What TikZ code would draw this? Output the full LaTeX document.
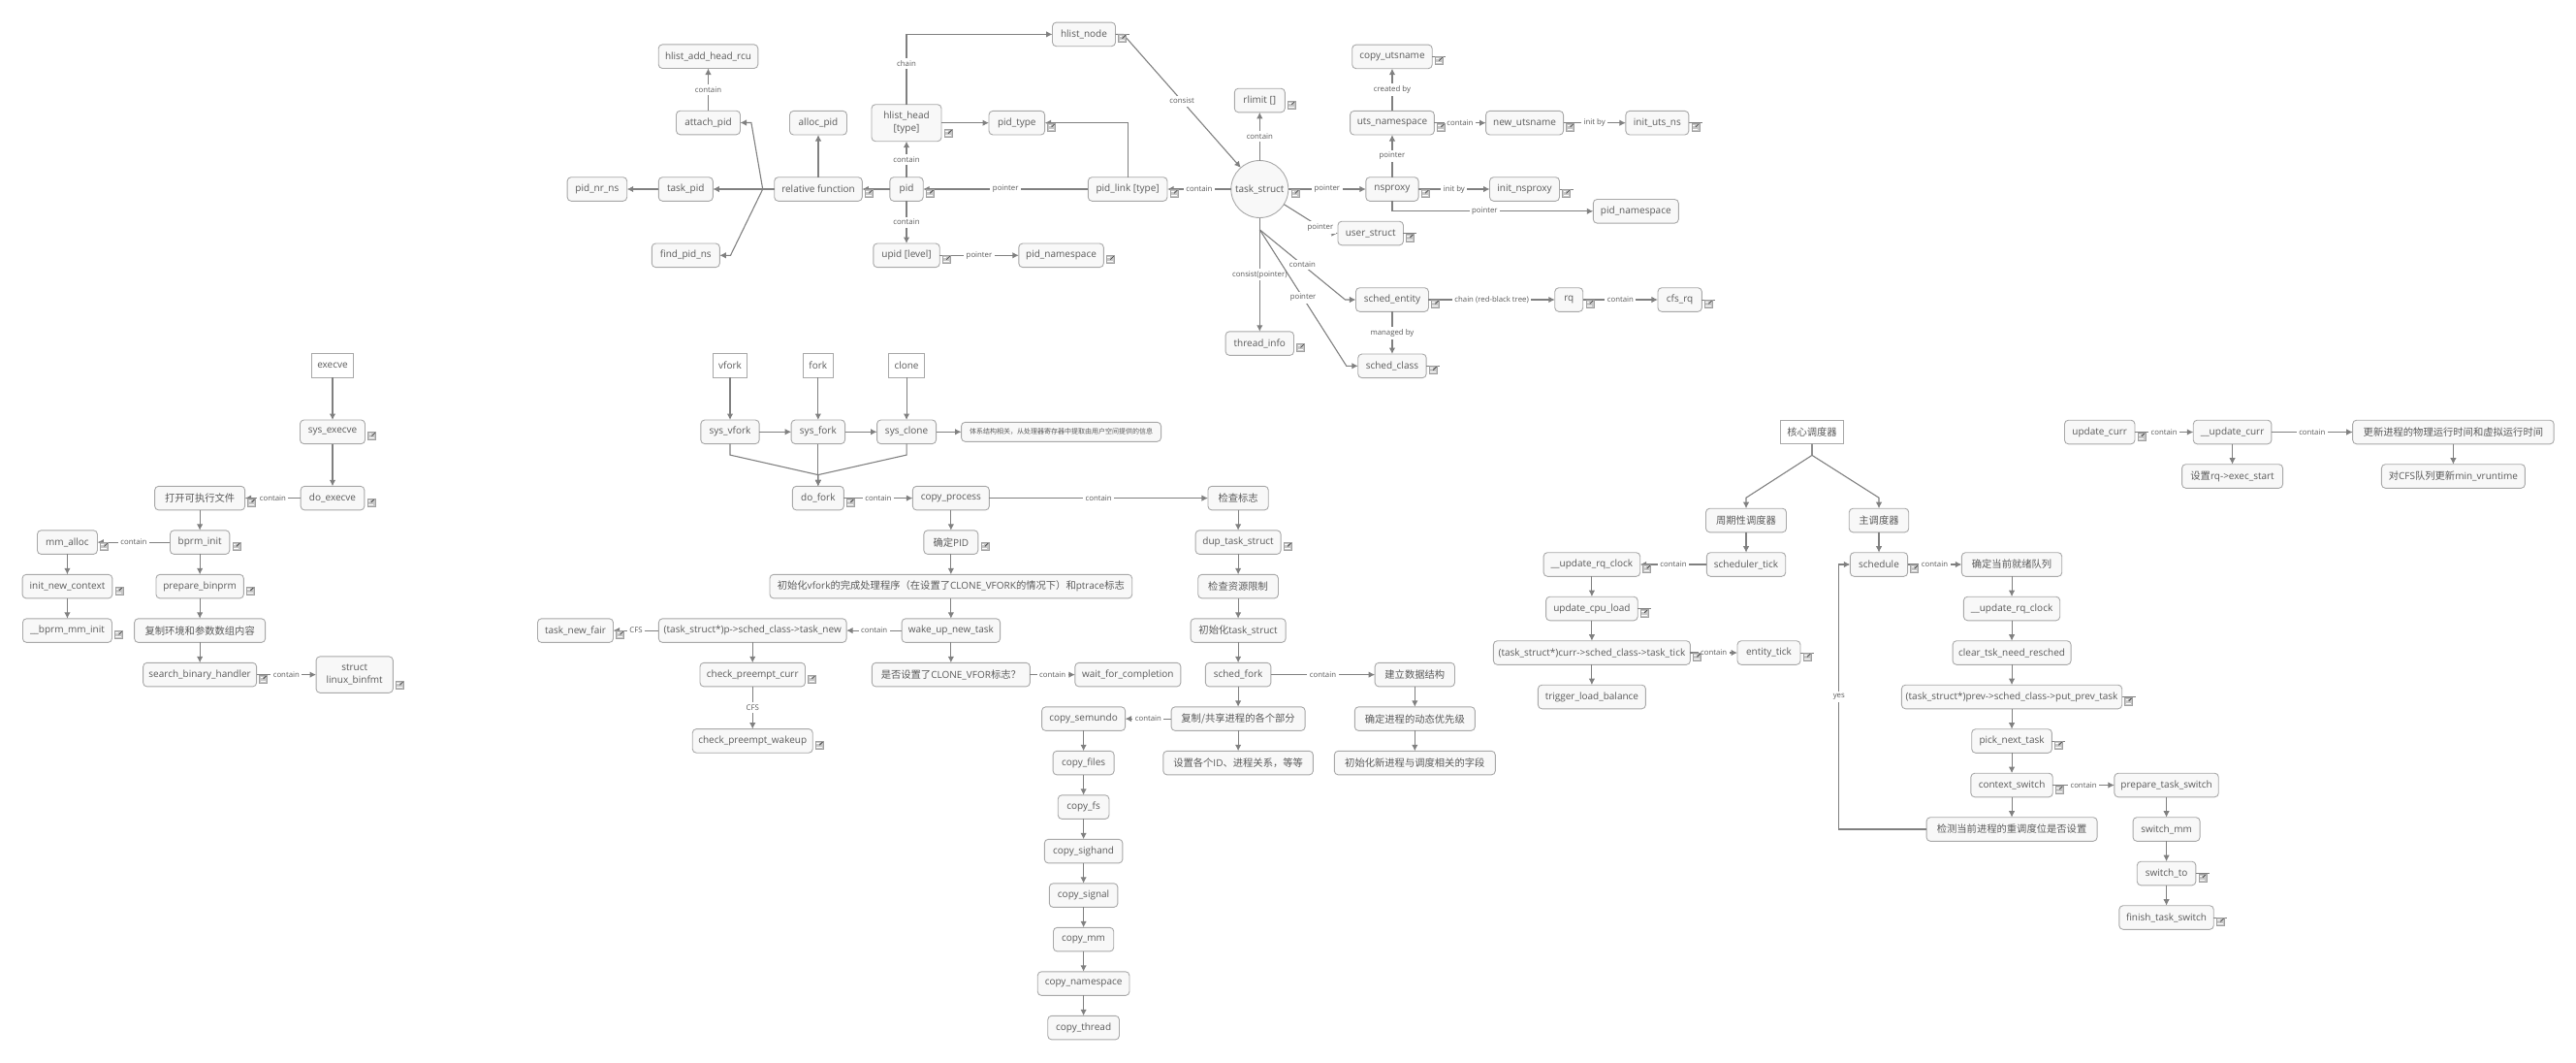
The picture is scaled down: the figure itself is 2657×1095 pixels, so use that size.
\documentclass[tikz,border=0pt]{standalone}
\usepackage{fontspec}
\setmainfont{Open Sans}
\newfontfamily\cjk[Scale=1.03]{Noto Sans CJK SC}
\newcommand{\zh}[1]{{\cjk #1}}
\usetikzlibrary{arrows.meta, positioning}
\definecolor{boxline}{HTML}{A8A8A8}
\definecolor{boxfill}{HTML}{F8F8F8}
\definecolor{boxtext}{HTML}{5A5A5A}
\definecolor{edgeline}{HTML}{808080}
\tikzset{
    box/.style={rectangle, rounded corners=4pt, draw=boxline, fill=boxfill, text=boxtext, line width=0.9pt, inner sep=0pt, outer sep=0pt, minimum height=24.6pt, align=center, font=\fontsize{10}{13}\selectfont},
    rootbox/.style={box, rounded corners=0pt, fill=white},
    smallbox/.style={box, minimum height=20pt, font=\fontsize{6.8}{8}\selectfont},
    roundbox/.style={box, circle, minimum size=59pt},
    arrow/.style={-{Latex[length=6.5pt,width=6.5pt]}, draw=edgeline, line width=1.1pt},
    edgelabel/.style={fill=white, text=boxtext, inner sep=2.5pt, font=\fontsize{7.8}{9}\selectfont},
    noteicon/.style={rectangle, draw=edgeline!75, fill=edgeline!45, line width=0.5pt, minimum size=8pt, inner sep=0pt,
        path picture={\draw[edgeline!60!black, line width=0.8pt] ([shift={(-0.5pt,-0.5pt)}]path picture bounding box.north east) -- (path picture bounding box.center);
            \draw[white, line width=0.5pt] ([shift={(1pt,-2pt)}]path picture bounding box.north west) -- ++(2.5pt,0);
            \draw[white, line width=0.5pt] ([shift={(1pt,2pt)}]path picture bounding box.south west) -- ++(5.5pt,0);}},
}
\newcommand{\notemark}[1]{\node[noteicon] (#1note) at ([shift={(7pt,8pt)}]#1.south east) {};}
\newcommand{\notelink}[1]{\draw[edgeline, line width=1pt] (#1.east) -- ++(14pt,0); \notemark{#1}}

\begin{document}
\begin{tikzpicture}[x=1pt, y=-1pt, node distance=20.9pt]

    \useasboundingbox (0,0) rectangle (2657,1095);

    % Nodes: pid side
    \node[box, minimum width=34.4pt] (pid) at (935,195) {pid};
    \node[box, minimum width=90.6pt, left=28.5pt of pid] (relfn) {relative function};
    \node[box, minimum width=56pt, left=63.4pt of relfn] (task_pid) {task\_pid};
    \node[box, minimum width=61.6pt, left=32.6pt of task_pid] (pid_nr_ns) {pid\_nr\_ns};
    \node[box, minimum width=70pt, below=43.7pt of task_pid] (find_pid_ns) {find\_pid\_ns};
    \node[box, minimum width=66pt] (attach_pid) at (730.5,126.5) {attach\_pid};
    \node[box, minimum width=102.6pt, above=43.7pt of attach_pid] (hlist_add) {hlist\_add\_head\_rcu};
    \node[box, minimum width=59pt, above=43.7pt of relfn] (alloc_pid) {alloc\_pid};
    \node[box, minimum width=72pt, minimum height=38pt, above=37pt of pid] (hlist_head) {hlist\_head\\{[type]}};
    \node[box, minimum width=57.6pt, right=49pt of hlist_head] (pid_type) {pid\_type};
    \node[box, minimum width=65pt] (hlist_node) at (1118,35.4) {hlist\_node};
    \node[box, minimum width=68.4pt, below=43.7pt of pid] (upid) {upid [level]};
    \node[box, minimum width=87.5pt, right=81.6pt of upid] (upid_ns) {pid\_namespace};
    \node[box, minimum width=81.7pt, right=170.1pt of pid] (pid_link) {pid\_link [type]};

    % Nodes: task_struct side
    \node[roundbox, right=65.8pt of pid_link] (task_struct) {task\_struct};
    \node[box, minimum width=52pt, above=49.7pt of task_struct] (rlimit) {rlimit []};
    \node[box, minimum width=70.4pt, below=117.3pt of task_struct] (thread_info) {thread\_info};
    \node[box, minimum width=54.3pt, right=80pt of task_struct] (nsproxy) {nsproxy};
    \node[box, minimum width=86.8pt, above=43.7pt of nsproxy] (uts_namespace) {uts\_namespace};
    \node[box, minimum width=82.5pt, above=43.7pt of uts_namespace] (copy_utsname) {copy\_utsname};
    \node[box, minimum width=80pt, right=53.2pt of uts_namespace] (new_utsname) {new\_utsname};
    \node[box, minimum width=65pt, right=64.3pt of new_utsname] (init_uts_ns) {init\_uts\_ns};
    \node[box, minimum width=72pt, right=73.4pt of nsproxy] (init_nsproxy) {init\_nsproxy};
    \node[box, minimum width=88pt] (ns_namespace) at (1687.3,217.8) {pid\_namespace};
    \node[box, minimum width=67.5pt] (user_struct) at (1413.7,240.5) {user\_struct};
    \node[box, minimum width=75pt, below=89.4pt of nsproxy] (sched_entity) {sched\_entity};
    \node[box, minimum width=70.4pt, below=43.7pt of sched_entity] (sched_class) {sched\_class};
    \node[box, minimum width=29pt, right=130.3pt of sched_entity] (rq) {rq};
    \node[box, minimum width=45.4pt, right=77.2pt of rq] (cfs_rq) {cfs\_rq};

    % Nodes: execve
    \node[rootbox, minimum width=42.5pt] (execve) at (343,377) {execve};
    \node[box, minimum width=67pt, below=43.7pt of execve] (sys_execve) {sys\_execve};
    \node[box, minimum width=65.7pt, below=43.7pt of sys_execve] (do_execve) {do\_execve};
    \node[box, minimum width=93pt, left=57.5pt of do_execve] (open_file) {\zh{打开可执行文件}};
    \node[box, minimum width=61.4pt, below=of open_file] (bprm_init) {bprm\_init};
    \node[box, minimum width=90.4pt, below=of bprm_init] (prepare_binprm) {prepare\_binprm};
    \node[box, minimum width=135pt, below=of prepare_binprm] (copy_args) {\zh{复制环境和参数数组内容}};
    \node[box, minimum width=117pt, below=of copy_args] (search_handler) {search\_binary\_handler};
    \node[box, minimum width=79.3pt, minimum height=37.4pt, right=61.4pt of search_handler] (linux_binfmt) {struct\\linux\_binfmt};
    \node[box, minimum width=62pt, left=75pt of bprm_init] (mm_alloc) {mm\_alloc};
    \node[box, minimum width=92.8pt, below=of mm_alloc] (init_context) {init\_new\_context};
    \node[box, minimum width=92pt, below=of init_context] (bprm_mm_init) {\_\_bprm\_mm\_init};

    % Nodes: fork
    \node[rootbox, minimum width=35.3pt] (vfork) at (753,377) {vfork};
    \node[box, minimum width=60.3pt, below=43.7pt of vfork] (sys_vfork) {sys\_vfork};
    \node[box, minimum width=55.4pt, right=33pt of sys_vfork] (sys_fork) {sys\_fork};
    \node[box, minimum width=61pt, right=33pt of sys_fork] (sys_clone) {sys\_clone};
    \node[rootbox, minimum width=30.4pt, above=43.7pt of sys_fork] (fork) {fork};
    \node[rootbox, minimum width=36.6pt, above=43.7pt of sys_clone] (clone) {clone};
    \node[smallbox, minimum width=206pt, right=26pt of sys_clone] (arch_note) {\zh{体系结构相关，从处理器寄存器中提取由用户空间提供的信息}};
    \node[box, minimum width=53pt, below=43.7pt of sys_fork] (do_fork) {do\_fork};
    \node[box, minimum width=79pt, right=71pt of do_fork] (copy_process) {copy\_process};
    \node[box, minimum width=56pt, below=of copy_process] (pid_step) {\zh{确定}PID};
    \node[box, minimum width=373.7pt, below=of pid_step] (vfork_init) {\zh{初始化}vfork\zh{的完成处理程序（在设置了}CLONE\_VFORK\zh{的情况下）和}ptrace\zh{标志}};
    \node[box, minimum width=101.5pt, below=of vfork_init] (wake_new) {wake\_up\_new\_task};
    \node[box, minimum width=163pt, below=of wake_new] (vfork_check) {\zh{是否设置了}CLONE\_VFOR\zh{标志？}};
    \node[box, minimum width=109pt, right=46.5pt of vfork_check] (wait_done) {wait\_for\_completion};
    \node[box, minimum width=193.7pt, left=57pt of wake_new] (task_new) {(task\_struct*)p->sched\_class->task\_new};
    \node[box, minimum width=78pt, left=46.9pt of task_new] (task_new_fair) {task\_new\_fair};
    \node[box, minimum width=108.5pt, below=of task_new] (check_curr) {check\_preempt\_curr};
    \node[box, minimum width=124pt, below=43.7pt of check_curr] (check_wakeup) {check\_preempt\_wakeup};

    % Nodes: copy_process body
    \node[box, minimum width=62.3pt, right=225.6pt of copy_process] (check_flags) {\zh{检查标志}};
    \node[box, minimum width=88pt, below=of check_flags] (dup_task) {dup\_task\_struct};
    \node[box, minimum width=82.7pt, below=of dup_task] (check_limit) {\zh{检查资源限制}};
    \node[box, minimum width=98pt, below=of check_limit] (init_task) {\zh{初始化}task\_struct};
    \node[box, minimum width=67.5pt, below=of init_task] (sched_fork) {sched\_fork};
    \node[box, minimum width=138pt, below=of sched_fork] (share_parts) {\zh{复制/共享进程的各个部分}};
    \node[box, minimum width=154.6pt, below=of share_parts] (set_ids) {\zh{设置各个}ID\zh{、进程关系，等等}};
    \node[box, minimum width=82.3pt, right=107.3pt of sched_fork] (build_data) {\zh{建立数据结构}};
    \node[box, minimum width=124pt, below=of build_data] (set_prio) {\zh{确定进程的动态优先级}};
    \node[box, minimum width=166pt, below=of set_prio] (init_fields) {\zh{初始化新进程与调度相关的字段}};
    \node[box, minimum width=86pt, left=47.5pt of share_parts] (copy_semundo) {copy\_semundo};
    \node[box, minimum width=63pt, below=of copy_semundo] (copy_files) {copy\_files};
    \node[box, minimum width=52.7pt, below=of copy_files] (copy_fs) {copy\_fs};
    \node[box, minimum width=80.6pt, below=of copy_fs] (copy_sighand) {copy\_sighand};
    \node[box, minimum width=70.6pt, below=of copy_sighand] (copy_signal) {copy\_signal};
    \node[box, minimum width=62.3pt, below=of copy_signal] (copy_mm) {copy\_mm};
    \node[box, minimum width=94.7pt, below=of copy_mm] (copy_namespace) {copy\_namespace};
    \node[box, minimum width=73.7pt, below=of copy_namespace] (copy_thread) {copy\_thread};

    % Nodes: scheduler
    \node[rootbox, minimum width=65pt] (core_sched) at (1869,445.5) {\zh{核心调度器}};
    \node[box, minimum width=83pt] (periodic) at (1801,536.5) {\zh{周期性调度器}};
    \node[box, minimum width=61.5pt] (main_sched) at (1938,536.5) {\zh{主调度器}};
    \node[box, minimum width=81.4pt, below=of periodic] (scheduler_tick) {scheduler\_tick};
    \node[box, minimum width=99.6pt, left=68.6pt of scheduler_tick] (rq_clock) {\_\_update\_rq\_clock};
    \node[box, minimum width=94.6pt, below=of rq_clock] (cpu_load) {update\_cpu\_load};
    \node[box, minimum width=203pt, below=of cpu_load] (task_tick) {(task\_struct*)curr->sched\_class->task\_tick};
    \node[box, minimum width=111pt, below=of task_tick] (load_balance) {trigger\_load\_balance};
    \node[box, minimum width=65pt, right=48.6pt of task_tick] (entity_tick) {entity\_tick};
    \node[box, minimum width=59.3pt, below=of main_sched] (schedule) {schedule};
    \node[box, minimum width=103.4pt, right=55.7pt of schedule] (find_rq) {\zh{确定当前就绪队列}};
    \node[box, minimum width=99.3pt, below=of find_rq] (rq_clock2) {\_\_update\_rq\_clock};
    \node[box, minimum width=122pt, below=of rq_clock2] (clear_resched) {clear\_tsk\_need\_resched};
    \node[box, minimum width=227.3pt, below=of clear_resched] (put_prev) {(task\_struct*)prev->sched\_class->put\_prev\_task};
    \node[box, minimum width=82.7pt, below=of put_prev] (pick_next) {pick\_next\_task};
    \node[box, minimum width=84.4pt, below=of pick_next] (context_switch) {context\_switch};
    \node[box, minimum width=176pt, below=of context_switch] (resched_check) {\zh{检测当前进程的重调度位是否设置}};
    \node[box, minimum width=107.4pt, right=63.6pt of context_switch] (prepare_switch) {prepare\_task\_switch};
    \node[box, minimum width=69pt, below=of prepare_switch] (switch_mm) {switch\_mm};
    \node[box, minimum width=60.6pt, below=of switch_mm] (switch_to) {switch\_to};
    \node[box, minimum width=97.4pt, below=of switch_to] (finish_switch) {finish\_task\_switch};

    % Nodes: update_curr
    \node[box, minimum width=72.5pt] (update_curr) at (2165.7,445.5) {update\_curr};
    \node[box, minimum width=80.6pt, right=60.3pt of update_curr] (update_inner) {\_\_update\_curr};
    \node[box, minimum width=207.5pt, right=83.8pt of update_inner] (update_time) {\zh{更新进程的物理运行时间和虚拟运行时间}};
    \node[box, minimum width=104pt, below=of update_inner] (set_start) {\zh{设置}rq->exec\_start};
    \node[box, minimum width=148pt, below=of update_time] (update_min) {\zh{对}CFS\zh{队列更新}min\_vruntime};

    % Bend points
    \coordinate[left=12pt of relfn] (relfork);
    \coordinate[right=11.4pt of attach_pid] (attachbend);
    \coordinate[right=11.2pt of find_pid_ns] (findbend);
    \coordinate[right=8pt of hlist_node] (hlistbend);
    \coordinate[below=12.3pt of task_struct] (taskfork);
    \coordinate[left=8pt of user_struct] (userbend);
    \coordinate[left=11pt of sched_entity] (entitybend);
    \coordinate[left=12pt of sched_class] (classbend);
    \coordinate[below=11.5pt of sys_vfork] (vforkbend);
    \coordinate[below=11.5pt of sys_clone] (clonebend);
    \coordinate[above=11.7pt of do_fork] (forkjoin);
    \coordinate[below=11.6pt of core_sched] (corefork);
    \coordinate[above=11pt of periodic] (periodicbend);
    \coordinate[above=11pt of main_sched] (mainbend);
    \coordinate[left=11.6pt of schedule] (schedbend);

    % Arrows: pid side
    \draw[arrow] (hlist_head) |- node[edgelabel, pos=0.29] {chain} (hlist_node);
    \draw[arrow] (hlist_head) -- (pid_type);
    \draw[arrow] (pid) -- node[edgelabel] {contain} (hlist_head);
    \draw[arrow] (pid) -- node[edgelabel] {contain} (upid);
    \draw[arrow] (pid) -- (relfn);
    \draw[arrow] (pid_link) -- node[edgelabel] {pointer} (pid);
    \draw[arrow] (pid_link) |- (pid_type);
    \draw[arrow] (task_struct) -- node[edgelabel] {contain} (pid_link);
    \draw[arrow] (hlist_node) -- (hlistbend) -- node[edgelabel] {consist} (task_struct);
    \draw[arrow] (relfn) -- (task_pid);
    \draw[arrow] (relfn) -- (alloc_pid);
    \draw[arrow] (relfork) -- (attachbend) -- (attach_pid);
    \draw[arrow] (relfork) -- (findbend) -- (find_pid_ns);
    \draw[arrow] (task_pid) -- (pid_nr_ns);
    \draw[arrow] (attach_pid) -- node[edgelabel] {contain} (hlist_add);
    \draw[arrow] (upid) -- node[edgelabel] {pointer} (upid_ns);

    % Arrows: task_struct side
    \draw[arrow] (task_struct) -- node[edgelabel] {contain} (rlimit);
    \draw[arrow] (task_struct) -- node[edgelabel] {pointer} (nsproxy);
    \draw[arrow] (nsproxy) -- node[edgelabel] {pointer} (uts_namespace);
    \draw[arrow] (uts_namespace) -- node[edgelabel] {created by} (copy_utsname);
    \draw[arrow] (uts_namespace) -- node[edgelabel] {contain} (new_utsname);
    \draw[arrow] (new_utsname) -- node[edgelabel] {init by} (init_uts_ns);
    \draw[arrow] (nsproxy) -- node[edgelabel] {init by} (init_nsproxy);
    \draw[arrow] (nsproxy) |- node[edgelabel, pos=0.73] {pointer} (ns_namespace);
    \draw[arrow] (task_struct) -- node[edgelabel, pos=0.79] {pointer} (userbend) -- (user_struct);
    \draw[arrow] (task_struct) -- node[edgelabel] {consist(pointer)} (thread_info);
    \draw[arrow] (taskfork) -- node[edgelabel] {contain} (entitybend) -- (sched_entity);
    \draw[arrow] (taskfork) -- node[edgelabel] {pointer} (classbend) -- (sched_class);
    \draw[arrow] (sched_entity) -- node[edgelabel] {chain (red-black tree)} (rq);
    \draw[arrow] (sched_entity) -- node[edgelabel] {managed by} (sched_class);
    \draw[arrow] (rq) -- node[edgelabel] {contain} (cfs_rq);

    % Arrows: execve
    \draw[arrow] (execve) -- (sys_execve);
    \draw[arrow] (sys_execve) -- (do_execve);
    \draw[arrow] (do_execve) -- node[edgelabel] {contain} (open_file);
    \draw[arrow] (open_file) -- (bprm_init);
    \draw[arrow] (bprm_init) -- node[edgelabel] {contain} (mm_alloc);
    \draw[arrow] (bprm_init) -- (prepare_binprm);
    \draw[arrow] (prepare_binprm) -- (copy_args);
    \draw[arrow] (copy_args) -- (search_handler);
    \draw[arrow] (search_handler) -- node[edgelabel] {contain} (linux_binfmt);
    \draw[arrow] (mm_alloc) -- (init_context);
    \draw[arrow] (init_context) -- (bprm_mm_init);

    % Arrows: fork
    \draw[arrow] (vfork) -- (sys_vfork);
    \draw[arrow] (fork) -- (sys_fork);
    \draw[arrow] (clone) -- (sys_clone);
    \draw[arrow] (sys_vfork) -- (sys_fork);
    \draw[arrow] (sys_fork) -- (sys_clone);
    \draw[arrow] (sys_clone) -- (arch_note);
    \draw[arrow] (sys_vfork) -- (vforkbend) -- (forkjoin) -- (do_fork);
    \draw[arrow] (sys_fork) -- (do_fork);
    \draw[arrow] (sys_clone) -- (clonebend) -- (forkjoin) -- (do_fork);
    \draw[arrow] (do_fork) -- node[edgelabel] {contain} (copy_process);
    \draw[arrow] (copy_process) -- node[edgelabel] {contain} (check_flags);
    \draw[arrow] (copy_process) -- (pid_step);
    \draw[arrow] (pid_step) -- (vfork_init);
    \draw[arrow] (vfork_init) -- (wake_new);
    \draw[arrow] (wake_new) -- (vfork_check);
    \draw[arrow] (vfork_check) -- node[edgelabel] {contain} (wait_done);
    \draw[arrow] (wake_new) -- node[edgelabel] {contain} (task_new);
    \draw[arrow] (task_new) -- node[edgelabel] {CFS} (task_new_fair);
    \draw[arrow] (task_new) -- (check_curr);
    \draw[arrow] (check_curr) -- node[edgelabel] {CFS} (check_wakeup);

    % Arrows: copy_process body
    \draw[arrow] (check_flags) -- (dup_task);
    \draw[arrow] (dup_task) -- (check_limit);
    \draw[arrow] (check_limit) -- (init_task);
    \draw[arrow] (init_task) -- (sched_fork);
    \draw[arrow] (sched_fork) -- (share_parts);
    \draw[arrow] (share_parts) -- (set_ids);
    \draw[arrow] (sched_fork) -- node[edgelabel] {contain} (build_data);
    \draw[arrow] (build_data) -- (set_prio);
    \draw[arrow] (set_prio) -- (init_fields);
    \draw[arrow] (share_parts) -- node[edgelabel] {contain} (copy_semundo);
    \draw[arrow] (copy_semundo) -- (copy_files);
    \draw[arrow] (copy_files) -- (copy_fs);
    \draw[arrow] (copy_fs) -- (copy_sighand);
    \draw[arrow] (copy_sighand) -- (copy_signal);
    \draw[arrow] (copy_signal) -- (copy_mm);
    \draw[arrow] (copy_mm) -- (copy_namespace);
    \draw[arrow] (copy_namespace) -- (copy_thread);

    % Arrows: scheduler
    \draw[arrow] (core_sched) -- (corefork) -- (periodicbend) -- (periodic);
    \draw[arrow] (core_sched) -- (corefork) -- (mainbend) -- (main_sched);
    \draw[arrow] (periodic) -- (scheduler_tick);
    \draw[arrow] (scheduler_tick) -- node[edgelabel] {contain} (rq_clock);
    \draw[arrow] (rq_clock) -- (cpu_load);
    \draw[arrow] (cpu_load) -- (task_tick);
    \draw[arrow] (task_tick) -- (load_balance);
    \draw[arrow] (task_tick) -- node[edgelabel] {contain} (entity_tick);
    \draw[arrow] (main_sched) -- (schedule);
    \draw[arrow] (schedule) -- node[edgelabel] {contain} (find_rq);
    \draw[arrow] (find_rq) -- (rq_clock2);
    \draw[arrow] (rq_clock2) -- (clear_resched);
    \draw[arrow] (clear_resched) -- (put_prev);
    \draw[arrow] (put_prev) -- (pick_next);
    \draw[arrow] (pick_next) -- (context_switch);
    \draw[arrow] (context_switch) -- (resched_check);
    \draw[arrow] (context_switch) -- node[edgelabel] {contain} (prepare_switch);
    \draw[arrow] (prepare_switch) -- (switch_mm);
    \draw[arrow] (switch_mm) -- (switch_to);
    \draw[arrow] (switch_to) -- (finish_switch);
    \draw[arrow] (resched_check) -| node[edgelabel, pos=0.75] {yes} (schedbend) -- (schedule);

    % Arrows: update_curr
    \draw[arrow] (update_curr) -- node[edgelabel] {contain} (update_inner);
    \draw[arrow] (update_inner) -- node[edgelabel] {contain} (update_time);
    \draw[arrow] (update_inner) -- (set_start);
    \draw[arrow] (update_time) -- (update_min);

    % Note marks
    \notelink{hlist_node} \notemark{hlist_head} \notemark{pid_type} \notemark{relfn} \notemark{pid}
    \notemark{upid} \notemark{upid_ns} \notemark{pid_link}
    \node[noteicon] (task_structnote) at ([shift={(7pt,-4.5pt)}]task_struct.east) {};
    \notelink{copy_utsname} \notemark{rlimit} \notemark{uts_namespace} \notemark{new_utsname} \notelink{init_uts_ns}
    \notemark{nsproxy} \notelink{init_nsproxy} \notelink{user_struct} \notemark{sched_entity} \notemark{rq}
    \notelink{cfs_rq} \notemark{thread_info} \notelink{sched_class}
    \notemark{sys_execve} \notemark{do_execve} \notemark{open_file} \notemark{bprm_init} \notemark{mm_alloc}
    \notemark{init_context} \notemark{prepare_binprm} \notemark{bprm_mm_init} \notemark{search_handler} \notemark{linux_binfmt}
    \notemark{do_fork} \notemark{pid_step} \notemark{task_new_fair} \notemark{check_curr} \notemark{check_wakeup} \notemark{dup_task}
    \notemark{rq_clock} \notelink{cpu_load} \notemark{task_tick} \notelink{entity_tick} \notemark{schedule}
    \notelink{put_prev} \notelink{pick_next} \notemark{context_switch} \notelink{switch_to} \notelink{finish_switch}
    \notemark{update_curr}

\end{tikzpicture}
\end{document}
